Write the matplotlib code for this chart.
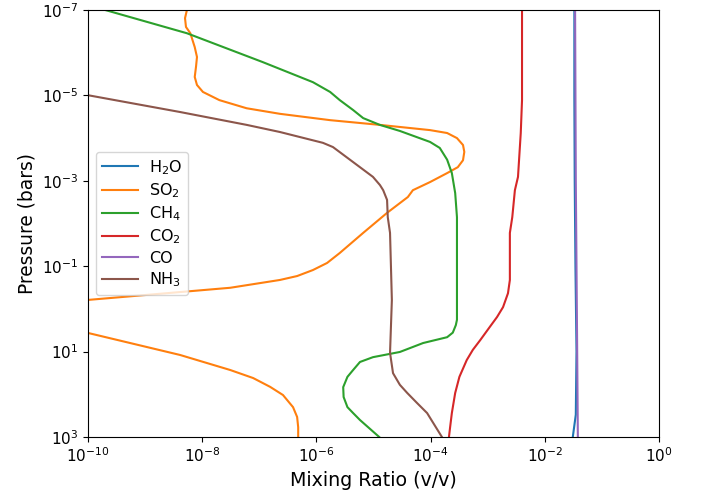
import matplotlib
matplotlib.use("Agg")
import matplotlib.pyplot as plt

# ---- data ----
species = ["H$_2$O", "SO$_2$", "CH$_4$", "CO$_2$", "CO", "NH$_3$"]

p_h2o = [1e-7, 1e-5, 1e-3, 1e-1, 10, 300, 1000]
h2o = [3.3e-2, 3.3e-2, 3.35e-2, 3.45e-2, 3.6e-2, 3.5e-2, 3.1e-2]

p_so2 = [1e-7, 1.55e-7, 2.5e-7, 3.5e-7, 7.4e-7, 1.26e-6, 2.1e-6, 3.7e-6, 5.7e-6,
         8.3e-6, 1.29e-5, 2.0e-5, 2.7e-5, 3.8e-5, 4.5e-5, 4.9e-5, 6.5e-5, 7.6e-5,
         1.0e-4, 1.45e-4, 2.1e-4, 3.3e-4, 4.8e-4, 6.6e-4, 1.07e-3, 1.66e-3, 2.4e-3,
         5.6e-3, 1.66e-2, 4.9e-2, 8.4e-2, 0.123, 0.17, 0.21, 0.32, 0.47, 0.62,
         1.3, 3.6, 12, 27, 41.6, 67, 104, 200, 340, 590, 1000]
so2 = [5.4e-9, 5.0e-9, 5.2e-9, 6.2e-9, 7.4e-9, 8.1e-9, 7.8e-9, 7.4e-9, 8.1e-9,
       1.03e-8, 2.0e-8, 6.0e-8, 2.3e-7, 1.74e-6, 6.6e-6, 1.29e-5, 9.8e-5, 1.95e-4,
       2.9e-4, 3.7e-4, 3.9e-4, 3.7e-4, 3.0e-4, 1.95e-4, 9.8e-5, 4.9e-5, 4.0e-5,
       1.74e-5, 6.6e-6, 2.57e-6, 1.54e-6, 8.7e-7, 4.6e-7, 2.3e-7, 3.1e-8, 1.07e-9,
       9.5e-11, 1e-12, 9.5e-11, 4.1e-9, 3.1e-8, 7.8e-8, 1.55e-7, 2.6e-7, 3.9e-7,
       4.6e-7, 4.8e-7, 4.8e-7]

p_ch4 = [1e-7, 3.5e-7, 1.66e-6, 4.9e-6, 8.3e-6, 1.29e-5, 2.2e-5, 3.4e-5, 4.9e-5,
         6.8e-5, 1.23e-4, 1.7e-4, 3.2e-4, 6.6e-4, 1.94e-3, 7.1e-3, 1.8, 2.4, 3.6,
         4.6, 6.3, 10.2, 13.5, 17.5, 27, 39, 68, 116, 200, 275, 400, 1000]
ch4 = [2.0e-10, 5.4e-9, 1.15e-7, 8.7e-7, 1.74e-6, 2.57e-6, 4.4e-6, 6.6e-6,
       1.29e-5, 2.9e-5, 9.8e-5, 1.45e-4, 1.95e-4, 2.36e-4, 2.7e-4, 2.9e-4,
       2.9e-4, 2.77e-4, 2.45e-4, 1.95e-4, 7.4e-5, 2.9e-5, 9.8e-6, 5.8e-6,
       4.4e-6, 3.5e-6, 2.95e-6, 3.0e-6, 3.5e-6, 4.4e-6, 5.8e-6, 1.26e-5]

p_co2 = [1e-7, 2.1e-6, 1.29e-5, 7.6e-5, 8.1e-4, 1.66e-3, 7.1e-3, 1.66e-2, 0.21,
         0.43, 0.91, 1.55, 2.6, 5.4, 9.1, 15.8, 39, 93, 275, 590, 1000]
co2 = [4.0e-3, 4.0e-3, 4.0e-3, 3.8e-3, 3.4e-3, 3.0e-3, 2.7e-3, 2.45e-3, 2.45e-3,
       2.27e-3, 1.86e-3, 1.46e-3, 1.1e-3, 7.4e-4, 5.5e-4, 4.3e-4, 3.2e-4,
       2.7e-4, 2.36e-4, 2.2e-4, 2.1e-4]

p_co = [1e-7, 1e-5, 1e-3, 1e-1, 10, 1000]
co = [3.4e-2, 3.45e-2, 3.5e-2, 3.6e-2, 3.7e-2, 3.8e-2]

p_nh3 = [5.8e-6, 9.8e-6, 2.45e-5, 4.9e-5, 7.2e-5, 1.29e-4, 1.62e-4, 2.9e-4,
         4.8e-4, 8.1e-4, 1.26e-3, 1.66e-3, 2.8e-3, 7.1e-3, 1.66e-2, 0.62, 10.7,
         32, 60, 93, 160, 275, 1000]
nh3 = [1e-11, 9.6e-11, 4.1e-9, 6.0e-8, 2.3e-7, 1.3e-6, 1.95e-6, 3.5e-6,
       5.8e-6, 9.8e-6, 1.3e-5, 1.48e-5, 1.73e-5, 1.78e-5, 1.95e-5, 2.1e-5,
       1.95e-5, 2.2e-5, 2.9e-5, 3.9e-5, 5.8e-5, 8.7e-5, 1.58e-4]

series = [(p_h2o, h2o), (p_so2, so2), (p_ch4, ch4), (p_co2, co2), (p_co, co), (p_nh3, nh3)]
colors = ["#1f77b4", "#ff7f0e", "#2ca02c", "#d62728", "#9467bd", "#8c564b"]

fig = plt.figure(figsize=(7.07, 4.93), dpi=100)
ax = fig.add_axes([0.1245, 0.1136, 0.8075, 0.8661])
for (p, x), lab, c in zip(series, species, colors):
    ax.plot(x, p, color=c, label=lab, lw=1.5)

ax.set_xscale("log")
ax.set_yscale("log")
ax.set_xlim(1e-10, 1)
ax.set_ylim(1e3, 1e-7)
ax.tick_params(labelsize=11)
ax.set_xlabel("Mixing Ratio (v/v)", fontsize=13.7)
ax.set_ylabel("Pressure (bars)", fontsize=13.4)
ax.legend(loc="center left", fontsize=11.5, labelspacing=0.28,
          handlelength=2.2, handletextpad=0.7)
fig.savefig("out.png", dpi=100)
